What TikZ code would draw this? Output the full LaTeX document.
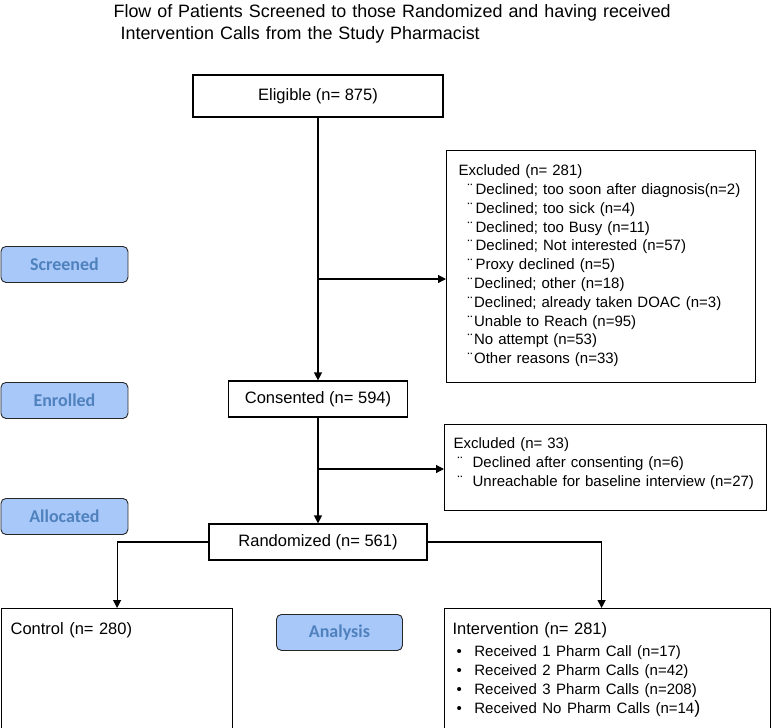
\documentclass[tikz,border=0pt]{standalone}
\usepackage{fontspec}
\setmainfont{Liberation Sans}
\newfontfamily\stagefont{Carlito}
\usepackage{tikz}
\usetikzlibrary{arrows.meta}
\usetikzlibrary{positioning}
\definecolor{stagefill}{RGB}{168,200,250}
\definecolor{stagetext}{RGB}{79,129,189}
\tikzset{%
	>={Triangle[width=8pt,length=8pt]},
  	% Specifications for style of nodes:
	base/.style = {rectangle, draw=black, inner sep=0pt},
	count/.style = {base, font=\fontsize{16.5}{19}\selectfont},
	excl/.style = {base, anchor=north west, align=left,
				   font=\fontsize{15}{18.8}\selectfont},
	arm/.style = {base, anchor=north west, align=left,
				  text height=26pt, font=\fontsize{16.5}{19}\selectfont},
	stage/.style = {rectangle, rounded corners=5pt, draw=black!85,
					line width=0.9pt, fill=stagefill, text=stagetext,
					minimum width=127pt, minimum height=36pt, anchor=north west,
					font=\stagefont\bfseries\fontsize{18}{20}\selectfont},
}

\begin{document}
\begin{tikzpicture}[x=1pt, y=-1pt, line width=1.2pt]
	\useasboundingbox (0,0) rectangle (772,728);

	% Title
	\node (title) [anchor=north west, align=left, inner sep=0pt, text width=620pt,
				   text height=13.5pt, font=\fontsize{17.9}{22}\selectfont] at (113,3)
		{Flow of Patients Screened to those Randomized and having received\\\hspace*{7pt}Intervention Calls from the Study Pharmacist};

	% Stage labels on the left
	\node (screened)  [stage] at (0.5,246) {Screened};
	\node (enrolled)  [stage] at (0.5,382) {Enrolled};
	\node (allocated) [stage] at (0.5,498) {Allocated};
	\node (analysis)  [stage, minimum width=126pt] at (276,614) {Analysis};

	% Main column
	\node (eligible)   [count, minimum width=250pt, minimum height=42pt] at (318,96)  {Eligible (n= 875)};
	\node (consented)  [count, minimum width=179pt, minimum height=36pt] at (318,399) {Consented (n= 594)};
	\node (randomized) [count, minimum width=218pt, minimum height=36pt] at (318,542) {Randomized (n= 561)};

	% Exclusion boxes
	\node (screenOut) [excl, text width=285pt, inner xsep=12pt,
					   text height=25pt, text depth=207pt] at (446,150)
		{Excluded (n= 281)\\
		 \hspace*{9pt}¨\hspace*{3pt}Declined; too soon after diagnosis(n=2)\\
		 \hspace*{9pt}¨\hspace*{3pt}Declined; too sick (n=4)\\
		 \hspace*{9pt}¨\hspace*{3pt}Declined; too Busy (n=11)\\
		 \hspace*{9pt}¨\hspace*{3pt}Declined; Not interested (n=57)\\
		 \hspace*{9pt}¨\hspace*{3pt}Proxy declined (n=5)\\
		 \hspace*{9pt}¨\hspace*{1.5pt}Declined; other (n=18)\\
		 \hspace*{9pt}¨\hspace*{1.5pt}Declined; already taken DOAC (n=3)\\
		 \hspace*{9pt}¨\hspace*{1.5pt}Unable to Reach (n=95)\\
		 \hspace*{9pt}¨\hspace*{1.5pt}No attempt (n=53)\\
		 \hspace*{9pt}¨\hspace*{1.5pt}Other reasons (n=33)};
	\node (consentOut) [excl, text width=304pt, inner xsep=9pt,
						text height=24pt, text depth=62pt] at (444,424)
		{Excluded (n= 33)\\
		 \hspace*{4pt}¨\hspace*{10pt}Declined after consenting (n=6)\\
		 \hspace*{4pt}¨\hspace*{10pt}Unreachable for baseline interview (n=27)};

	% Study arms
	\node (control) [arm, text width=213pt, inner xsep=9pt, text depth=106pt] at (1,608)
		{Control (n= 280)};
	\node (intervention) [arm, text width=310pt, inner xsep=8pt, text depth=130pt] at (444,608)
		{Intervention (n= 281)\\[3pt]
		 {\fontsize{15}{19}\selectfont
		 \hspace*{4pt}•\hspace*{12.5pt}Received 1 Pharm Call (n=17)\\
		 \hspace*{4pt}•\hspace*{12.5pt}Received 2 Pharm Calls (n=42)\\
		 \hspace*{4pt}•\hspace*{12.5pt}Received 3 Pharm Calls (n=208)\\
		 \hspace*{4pt}•\hspace*{12.5pt}Received No Pharm Calls (n=14{\fontsize{18}{19}\selectfont )}}};

	% Connectors
	\coordinate (toScreenOut)  at (318,279);
	\coordinate (toConsentOut) at (318,469);

	\draw[->] (eligible) -- (consented);
	\draw[->] (toScreenOut) -- (toScreenOut -| screenOut.west);
	\draw[->] (consented) -- (randomized);
	\draw[->] (toConsentOut) -- (toConsentOut -| consentOut.west);
	\draw[->] (randomized.west) -| (control.north);
	\draw[->] (randomized.east) -| ([xshift=-6pt]intervention.north);

\end{tikzpicture}
\end{document}
